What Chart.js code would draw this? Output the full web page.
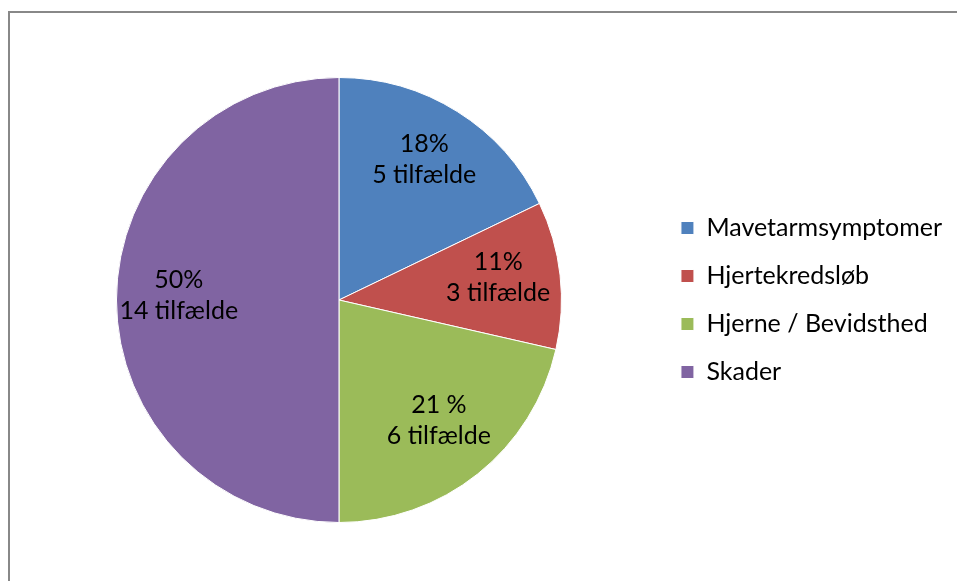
<!DOCTYPE html>
<html>
<head>
<meta charset="utf-8">
<script src="https://cdn.jsdelivr.net/npm/chart.js@4.4.1/dist/chart.umd.min.js"></script>
<style>
    body { margin: 0; background: #fff; overflow: hidden; }
    #ramme {
        position: absolute; left: 8px; top: 11px;
        width: 1000px; height: 700px;
        border-left: 2px solid #888; border-top: 2px solid #888;
    }
    #wrap { position: absolute; left: 0; top: 0; width: 957px; height: 581px; }
</style>
</head>
<body>
<div id="ramme"></div>
<div id="wrap"><canvas id="kage"></canvas></div>
<script>
// Data
const kategorier = ['Mavetarmsymptomer', 'Hjertekredsløb', 'Hjerne / Bevidsthed', 'Skader'];
const tilfaelde = [5, 3, 6, 14];
const etiketter = [
    ['18%', '5 tilfælde'],
    ['11%', '3 tilfælde'],
    ['21 %', '6 tilfælde'],
    ['50%', '14 tilfælde']
];
const farver = ['#4F81BD', '#C0504D', '#9BBB59', '#8064A2'];

const skrift = 'Lato, "Open Sans", sans-serif';

/* ==================
    ETIKETTER I KAGEN
================== */
const etiketPlugin = {
    id: 'etiketter',
    afterDatasetsDraw(chart) {
        const ctx = chart.ctx;
        const meta = chart.getDatasetMeta(0);
        ctx.save();
        ctx.font = '25px ' + skrift;
        ctx.fillStyle = '#000';
        ctx.textAlign = 'center';
        ctx.textBaseline = 'middle';
        meta.data.forEach((arc, i) => {
            const p = arc.getProps(['x', 'y', 'startAngle', 'endAngle', 'outerRadius'], true);
            const midt = (p.startAngle + p.endAngle) / 2;
            const r = p.outerRadius * 0.72;
            const cx = p.x + Math.cos(midt) * r;
            const cy = p.y + Math.sin(midt) * r - 5;
            const linjer = etiketter[i];
            ctx.fillText(linjer[0], cx, cy - 15);
            ctx.fillText(linjer[1], cx, cy + 16);
        });
        ctx.restore();
    }
};

new Chart(document.getElementById('kage'), {
    type: 'pie',
    data: {
        labels: kategorier,
        datasets: [{
            data: tilfaelde,
            backgroundColor: farver,
            borderColor: '#fff',
            borderWidth: 1
        }]
    },
    options: {
        responsive: true,
        maintainAspectRatio: false,
        animation: false,
        layout: { padding: { left: 20, top: 77, bottom: 58, right: 5 } },
        plugins: {
            legend: {
                position: 'right',
                labels: {
                    boxWidth: 13,
                    boxHeight: 13,
                    padding: 23,
                    color: '#000',
                    font: { family: skrift, size: 25 }
                }
            },
            tooltip: { enabled: false }
        }
    },
    plugins: [etiketPlugin]
});
</script>
</body>
</html>
